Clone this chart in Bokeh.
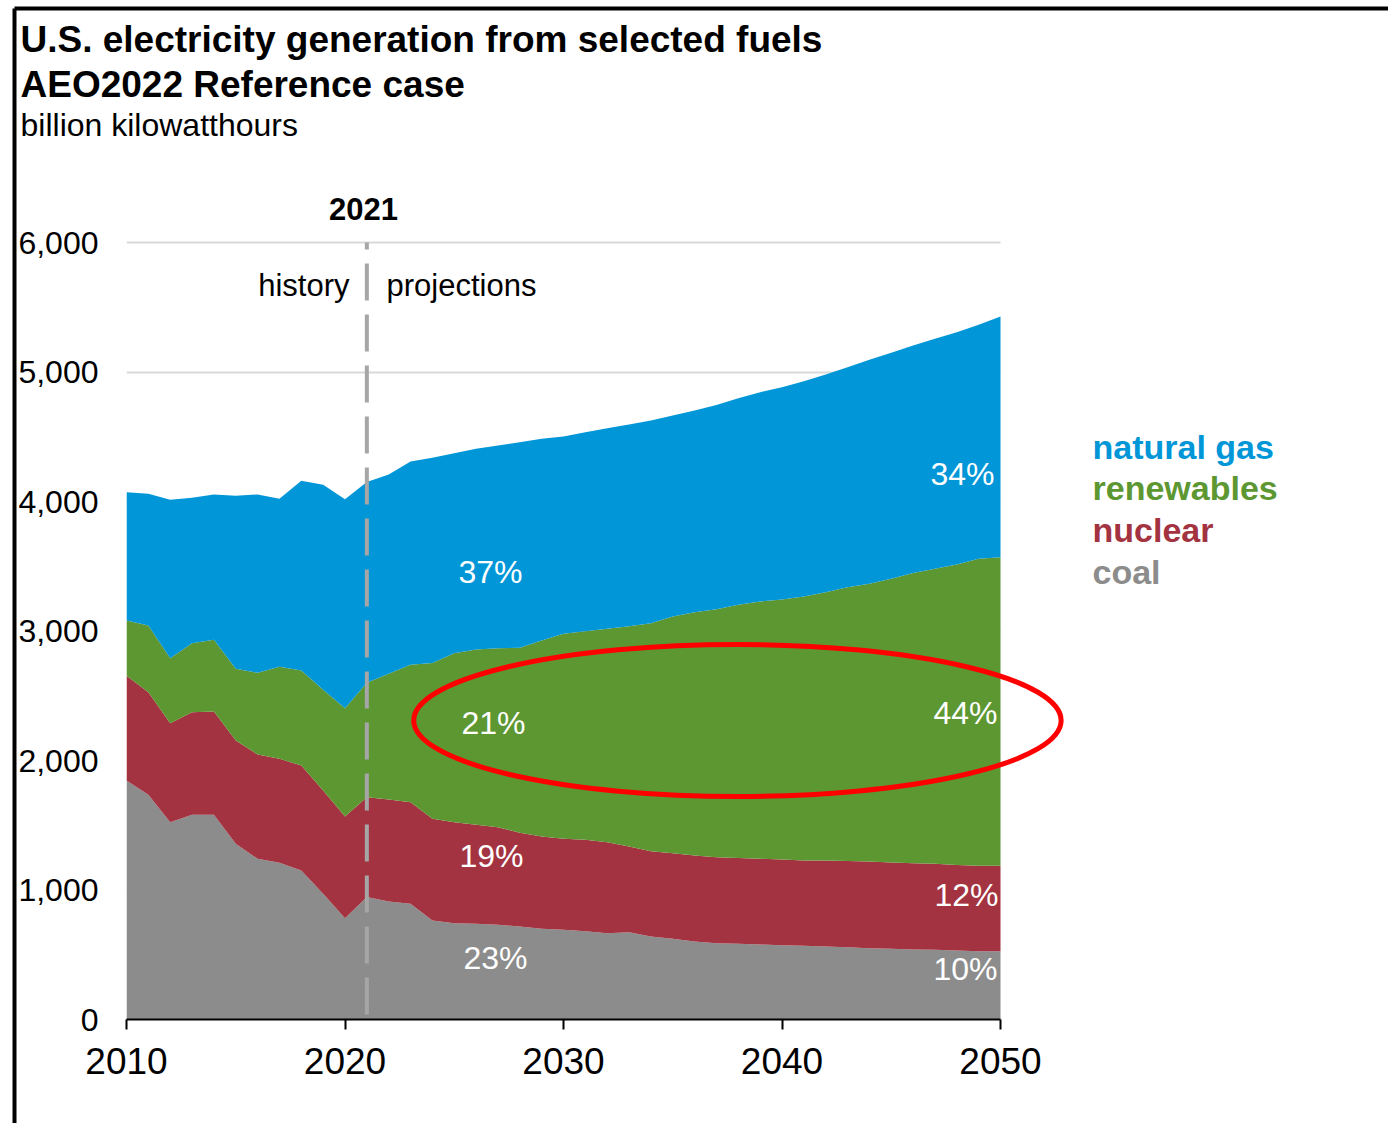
from bokeh.plotting import figure
from bokeh.models import ColumnDataSource, Range1d, FixedTicker, NumeralTickFormatter
from bokeh.core.properties import value
from bokeh.embed import file_html
from bokeh.resources import INLINE

# ---- data: U.S. electricity generation, billion kWh (AEO2022 Reference case) ----
years = list(range(2010, 2051))
coal = [1846, 1735, 1524, 1581, 1581, 1357, 1241, 1210, 1151, 971,
        782, 945, 911, 893, 764, 744, 739, 731, 718, 700,
        693, 682, 666, 674, 641, 623, 602, 589, 584, 579,
        574, 569, 564, 558, 551, 546, 541, 538, 533, 527, 527]
nuclear = [808, 792, 764, 792, 797, 797, 805, 803, 810, 797,
           786, 771, 788, 785, 786, 780, 764, 754, 724, 713,
           702, 706, 703, 662, 659, 661, 664, 664, 664, 662,
           662, 659, 664, 665, 669, 666, 666, 664, 661, 660, 660]
renewables = [427, 515, 502, 533, 554, 554, 631, 711, 734, 778,
              836, 884, 970, 1061, 1202, 1305, 1354, 1382, 1428, 1514,
              1583, 1611, 1648, 1701, 1760, 1828, 1879, 1915, 1954, 1987,
              2007, 2038, 2072, 2115, 2144, 2191, 2240, 2278, 2320, 2370, 2383]
natural_gas = [991, 1017, 1223, 1122, 1122, 1336, 1377, 1297, 1465, 1583,
               1614, 1550, 1539, 1570, 1585, 1544, 1550, 1565, 1588, 1557,
               1524, 1536, 1549, 1558, 1565, 1552, 1558, 1578, 1596, 1616,
               1640, 1663, 1681, 1699, 1730, 1745, 1758, 1776, 1793, 1807, 1859]

series_keys = ["coal", "nuclear", "renewables", "natural_gas"]
series_names = ["coal", "nuclear", "renewables", "natural gas"]
series_colors = ["#8C8C8C", "#A33340", "#5D9732", "#0096D7"]

x_ticks = [2010, 2020, 2030, 2040, 2050]
y_ticks = [0, 1000, 2000, 3000, 4000, 5000, 6000]
last_history_year = 2021

# ellipse drawn around the renewables band
ring_year, ring_value = 2037.96, 2309
ring_width_years, ring_height_value = 29.63, 1174

# ---- page geometry (pixels) ----
W, H = 1388, 1123
FRAME_LEFT, FRAME_BOTTOM = 126, 1019
PX_PER_YEAR = 874 / (x_ticks[-1] - x_ticks[0])
PX_PER_UNIT = 777 / y_ticks[-1]


def at(cx, cy):
    """Canvas pixel position -> data position."""
    return x_ticks[0] + (cx - FRAME_LEFT) / PX_PER_YEAR, (FRAME_BOTTOM - cy) / PX_PER_UNIT


FONT = "Liberation Sans"

p = figure(
    width=W, height=H,
    x_range=Range1d(x_ticks[0], x_ticks[0] + (W - FRAME_LEFT) / PX_PER_YEAR),
    y_range=Range1d(0, FRAME_BOTTOM / PX_PER_UNIT),
    output_backend="svg", toolbar_location=None,
    min_border_left=FRAME_LEFT, min_border_right=0, min_border_top=0,
    min_border_bottom=H - FRAME_BOTTOM,
)
p.outline_line_color = None
p.background_fill_color = "white"
p.border_fill_color = "white"

# grid: horizontal lines only, limited to the plotted years
p.xgrid.visible = False
p.ygrid.ticker = FixedTicker(ticks=y_ticks)
p.ygrid.grid_line_color = "#D9D9D9"
p.ygrid.grid_line_width = 2
p.ygrid.cross_bounds = (x_ticks[0], x_ticks[-1])

# x axis
xa = p.xaxis[0]
xa.ticker = FixedTicker(ticks=x_ticks)
xa.bounds = (x_ticks[0], x_ticks[-1])
xa.axis_line_color = "black"
xa.axis_line_width = 2
xa.major_tick_line_color = "black"
xa.major_tick_line_width = 2
xa.major_tick_out = 10
xa.major_tick_in = 0
xa.minor_tick_line_color = None
xa.major_label_standoff = 18
xa.major_label_text_font = FONT
xa.major_label_text_font_size = "37px"
xa.major_label_text_color = "black"

# y axis
ya = p.yaxis[0]
ya.ticker = FixedTicker(ticks=y_ticks)
ya.formatter = NumeralTickFormatter(format="0,0")
ya.axis_line_color = None
ya.major_tick_line_color = None
ya.minor_tick_line_color = None
ya.major_tick_out = 0
ya.major_tick_in = 0
ya.major_label_standoff = 28
ya.major_label_text_font = FONT
ya.major_label_text_font_size = "32px"
ya.major_label_text_color = "black"

# stacked areas
source = ColumnDataSource(dict(year=years, coal=coal, nuclear=nuclear,
                               renewables=renewables, natural_gas=natural_gas))
p.varea_stack(stackers=series_keys, x="year", color=series_colors, source=source)

# history / projections divider
p.line(x=[last_history_year, last_history_year], y=[y_ticks[-1], y_ticks[0]],
       line_color="#A6A6A6", line_width=4, line_dash="37 14", line_dash_offset=30)

# highlight ring
p.ellipse(x=[ring_year], y=[ring_value], width=[ring_width_years], height=[ring_height_value],
          fill_color=None, line_color="#FF0000", line_width=5)


def label(cx, cy, text, size, color="black", bold=False, align="left"):
    x, y = at(cx, cy)
    p.text(x=[x], y=[y], text=[text], text_font=value(FONT), text_font_size=value(f"{size}px"),
           text_font_style="bold" if bold else "normal", text_color=color,
           text_align=align, text_baseline="alphabetic", level="overlay")


# titles
label(20, 39, "U.S. electricity generation from selected fuels", 37, bold=True)
label(20, 84, "AEO2022 Reference case", 37, bold=True)
label(20, 124, "billion kilowatthours", 32)

# divider annotations
label(363, 208, str(last_history_year), 31, bold=True, align="center")
label(349, 285, "history", 31, align="right")
label(386, 285, "projections", 31, align="left")

# shares of generation in the first projection year and in 2050
columns = dict(zip(series_keys, [coal, nuclear, renewables, natural_gas]))
totals = [sum(v) for v in zip(coal, nuclear, renewables, natural_gas)]


def share(key, year):
    i = years.index(year)
    return f"{round(100 * columns[key][i] / totals[i])}%"


share_labels = [
    ("natural_gas", last_history_year, 490, 571, "center"),
    ("renewables", last_history_year, 493, 722, "center"),
    ("nuclear", last_history_year, 491, 855, "center"),
    ("coal", last_history_year, 495, 957, "center"),
    ("natural_gas", x_ticks[-1], 994, 473, "right"),
    ("renewables", x_ticks[-1], 997, 712, "right"),
    ("nuclear", x_ticks[-1], 998, 894, "right"),
    ("coal", x_ticks[-1], 997, 968, "right"),
]
for key, yr, cx, cy, align in share_labels:
    label(cx, cy, share(key, yr), 32, color="white", align=align)

# legend, top series first
for i, (name, color) in enumerate(zip(reversed(series_names), reversed(series_colors))):
    label(1092, 446 + i * 41.7, name, 34, color=color, bold=True)

# frame rules along the top and left edges
bx0, by0 = at(14, 8)
bx1, by1 = at(W, H)
p.segment(x0=[bx0, bx0], y0=[by0, by0], x1=[bx1, bx0], y1=[by0, by1],
          line_color="black", line_width=4, level="overlay")

open("out.html", "w").write(file_html(p, INLINE))
